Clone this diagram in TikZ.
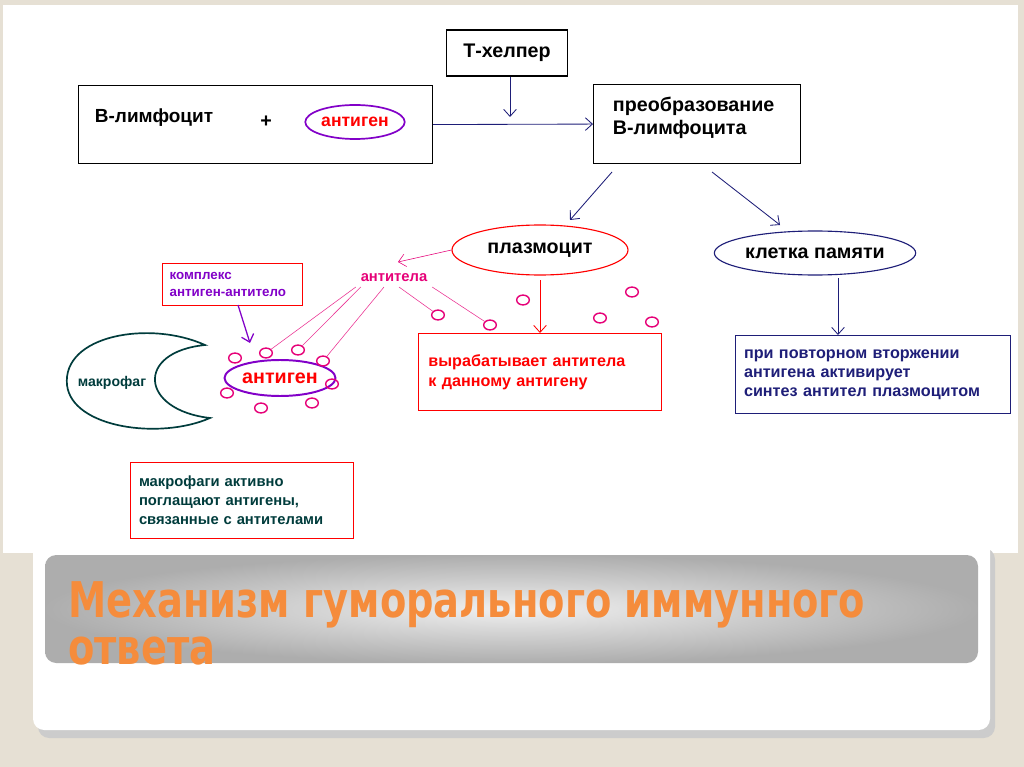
\documentclass[tikz,border=0pt]{standalone}
\usepackage{fontspec}
\setmainfont{Liberation Sans}
\newfontfamily\titlefont{DejaVu Sans}
\usetikzlibrary{arrows.meta,shapes.geometric}
\definecolor{navy}{RGB}{30,30,120}
\definecolor{teal2}{RGB}{0,60,60}
\definecolor{mag}{RGB}{230,0,120}
\definecolor{purp}{RGB}{130,0,200}
\definecolor{orng}{RGB}{245,140,60}
\tikzset{box/.style={draw,line width=0.8pt,align=left,font=\bfseries\fontsize{11.5}{14}\selectfont,anchor=north west},
ar/.style={-{Straight Barb[length=5pt,width=9pt]},line width=0.6pt},
oval/.style={draw=mag,line width=1pt,ellipse,minimum width=9pt,minimum height=7pt,inner sep=0pt},
pk/.style={draw=mag!80,line width=0.4pt}}
\begin{document}
\begin{tikzpicture}[x=0.025cm,y=-0.025cm]
\fill[fill={rgb,255:red,230;green,224;blue,212}] (0,0) rectangle (1024,767);
\useasboundingbox (0,0) rectangle (1024,767);
\fill[white] (3,5) rectangle (1018,553);
\fill[black!20,rounded corners=8] (38,548) rectangle (995,738);
\fill[white,rounded corners=8] (33,540) rectangle (990,730);
\shade[inner color=black!6,outer color=black!32,rounded corners=8] (45,555) rectangle (978,663);
\fill[white] (33,540) rectangle (990,555);
\node[anchor=north west,align=left,text=orng,font=\titlefont\bfseries\fontsize{35}{34}\selectfont,inner sep=0pt,xscale=0.78] (title) at (68,581) {Механизм гуморального иммунного\\ответа};
% top row
\node[box,minimum width=354*0.025cm,minimum height=78*0.025cm] (bl) at (78,85) {};
\node[anchor=west,font=\bfseries\fontsize{13.5}{16}\selectfont] (blt) at (90,118) {В-лимфоцит};
\node[font=\bfseries\fontsize{14}{16}\selectfont] (plus) at (266,122) {+};
\node[draw=purp,line width=1.2pt,ellipse,minimum width=96*0.025cm,minimum height=34*0.025cm,inner sep=1pt,text=red,font=\bfseries\fontsize{12.5}{14}\selectfont] (ag1) at (355,122) {антиген};
\node[box,minimum width=121*0.025cm,minimum height=46*0.025cm,align=center,anchor=center,font=\bfseries\fontsize{14}{16}\selectfont] (th) at (507,53) {Т-хелпер};
\node[box,minimum width=207*0.025cm,minimum height=79*0.025cm,anchor=north west] (pr) at (593,84) {};
\node[anchor=west,align=left,font=\bfseries\fontsize{14}{16}\selectfont] (prt) at (608,118) {преобразование\\В-лимфоцита};
\draw[ar,navy] (bl.east) -- (pr.west);
\draw[ar,navy] (th.south -| 510,0) -- (510,117);
% plasma, memory
\node[draw=red,line width=0.8pt,ellipse,minimum width=176*0.025cm,minimum height=50*0.025cm,inner sep=1pt,font=\bfseries\fontsize{14}{16}\selectfont] (pl) at (540,250) {плазмоцит};
\node[draw=navy,line width=0.8pt,ellipse,minimum width=200*0.025cm,minimum height=44*0.025cm,inner sep=1pt,font=\bfseries\fontsize{14}{16}\selectfont] (km) at (815,253) {клетка памяти};
\draw[ar,navy] (612,172) -- (570,220);
\draw[ar,navy] (712,172) -- (780,225);
\node[box,draw=red,text=red,text width=223*0.025cm,minimum height=77*0.025cm,inner sep=7pt,font=\bfseries\fontsize{11.5}{14}\selectfont] (vy) at (418,333) {вырабатывает антитела\\к данному антигену};
\node[box,draw=navy,text=navy,text width=258*0.025cm,minimum height=78*0.025cm,inner sep=6pt,font=\bfseries\fontsize{11.5}{13.5}\selectfont] (pv) at (735,335) {при повторном вторжении\\антигена активирует\\синтез антител плазмоцитом};
\draw[ar,red] (540,280) -- (vy.north -| 540,0);
\draw[ar,navy] (838,278) -- (pv.north -| 838,0);
% antibodies
\node[text=mag,font=\bfseries\fontsize{10.5}{12}\selectfont] (at) at (394,278) {антитела};
\draw[ar,mag,line width=0.4pt] (pl.west) -- (398,262);
\node[draw=purp,line width=1.4pt,ellipse,minimum width=104*0.025cm,minimum height=36*0.025cm,inner sep=1pt,text=red,font=\bfseries\fontsize{14}{16}\selectfont] (ag2) at (280,378) {антиген};
\foreach \x/\y [count=\i] in {438/315,490/325,523/300,600/318,632/292,652/322,235/358,266/353,298/350,323/361,332/384,227/393,312/403,261/408}
  \node[oval] (o\i) at (\x,\y) {};
\draw[pk] (at.south west) -- (o8);
\draw[pk] (at.south west) ++(5,0) -- (o9);
\draw[pk] (at.south) ++(-10,0) -- (o10);
\draw[pk] (at.south) ++(5,0) -- (o1);
\draw[pk] (at.south east) -- (o2);
\node[box,draw=red,text=purp,text width=126*0.025cm,minimum height=42*0.025cm,inner sep=5pt,font=\bfseries\fontsize{9.5}{12}\selectfont] (kx) at (162,263) {комплекс\\антиген-антитело};
\draw[ar,purp,line width=0.9pt] (238,305) -- (250,343);
% macrophage
\draw[teal2,line width=1.2pt] (205,345) .. controls (150,320) and (62,335) .. (67,385) .. controls (72,428) and (160,440) .. (210,418) .. controls (140,410) and (135,352) .. cycle;
\node[text=teal2,font=\bfseries\fontsize{10}{12}\selectfont] (mf) at (112,383) {макрофаг};
\node[box,draw=red,text=teal2,text width=206*0.025cm,minimum height=76*0.025cm,inner sep=6pt,font=\bfseries\fontsize{10.5}{13.5}\selectfont] (mk) at (130,462) {макрофаги активно\\поглащают антигены,\\связанные с антителами};
\end{tikzpicture}
\end{document}
